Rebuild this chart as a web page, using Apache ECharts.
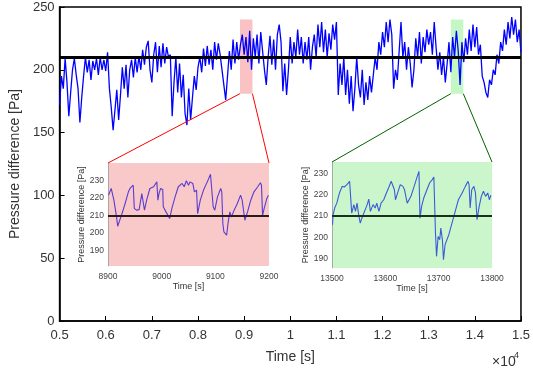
<!DOCTYPE html>
<html>
<head>
<meta charset="utf-8">
<script src="https://cdn.jsdelivr.net/npm/echarts@6/dist/echarts.min.js"></script>
<style>
	html, body { margin: 0; padding: 0; background: #fff; }
	#chart { width: 533px; height: 369px; }
</style>
</head>
<body>
<div id="chart"></div>
<script>
(function () {

	var FONT = '"Liberation Sans", Arial, sans-serif';

	// main record, one reading every 40 s starting at 5000 s
	var MAIN_START = 5000;
	var MAIN_STEP  = 40;
	var mainValues = [
		172, 195, 185, 209, 190, 163, 182, 200, 209, 196,
		185, 158, 178, 195, 210, 198, 208, 192, 207, 200,
		209, 196, 210, 200, 208, 199, 214, 185, 170, 152,
		168, 184, 160, 180, 202, 185, 204, 178, 200, 208,
		194, 210, 198, 211, 200, 216, 204, 218, 223, 200,
		190, 212, 222, 198, 219, 202, 221, 205, 218, 210,
		212, 163, 190, 210, 182, 205, 178, 196, 165, 156,
		185, 160, 178, 195, 184, 202, 210, 198, 217, 203,
		219, 204, 216, 200, 222, 208, 221, 212, 200, 188,
		176, 195, 215, 200, 224, 205, 222, 208, 220, 228,
		212, 226, 206, 231, 200, 225, 210, 228, 205, 230,
		215, 200, 188, 210, 227, 204, 224, 200, 228, 236,
		222, 183, 205, 180, 200, 226, 205, 222, 210, 232,
		212, 226, 205, 222, 208, 226, 200, 218, 228, 210,
		236, 218, 238, 214, 232, 210, 229, 216, 236, 224,
		238, 180, 205, 188, 210, 180, 200, 173, 195, 167,
		185, 210, 188, 178, 200, 172, 190, 176, 195, 182,
		196, 210, 200, 222, 212, 230, 218, 238, 222, 240,
		228, 185, 200, 192, 215, 238, 210, 222, 200, 218,
		205, 186, 200, 225, 210, 230, 205, 226, 214, 232,
		220, 230, 212, 238, 218, 200, 214, 196, 210, 190,
		205, 222, 198, 226, 210, 231, 215, 188, 222, 206,
		225, 212, 232, 215, 236, 218, 234, 212, 220, 195,
		190, 182, 178, 192, 188, 200, 196, 212, 205, 222,
		215, 232, 220, 238, 225, 242, 228, 240, 222, 232, 214
	];
	var meanLevel = 210;

	var redBand   = [8910, 9180];
	var greenBand = [13480, 13750];
	var bandY     = [181, 240];

	var inset1Time = [
		8901, 8906, 8909, 8911, 8913, 8916, 8918, 8920, 8925, 8931,
		8938, 8941, 8944, 8947, 8949, 8953, 8958, 8963, 8966, 8968,
		8972, 8978, 8985, 8991, 8993, 8995, 8998, 9002, 9003, 9008,
		9015, 9019, 9025, 9031, 9038, 9042, 9046, 9050, 9053, 9058,
		9061, 9065, 9067, 9072, 9078, 9085, 9091, 9093, 9096, 9099,
		9104, 9110, 9112, 9114, 9116, 9119, 9121, 9124, 9127, 9130,
		9135, 9141, 9147, 9150, 9155, 9160, 9166, 9172, 9179, 9184,
		9186, 9188, 9191, 9196, 9199
	];
	var inset1Values = [
		221.6, 225.4, 226.0, 218.7, 219.7, 209.0, 203.8, 203.4, 210.0, 215.8,
		223.5, 225.4, 226.4, 227.3, 214.0, 213.0, 213.3, 222.5, 222.5, 213.0,
		218.7, 225.4, 226.4, 229.2, 218.7, 222.5, 225.4, 224.8, 214.9, 212.0,
		208.2, 214.0, 220.6, 226.4, 228.3, 226.4, 229.8, 227.3, 229.2, 228.3,
		223.5, 224.5, 211.0, 218.7, 224.5, 229.2, 233.6, 234.4, 214.9, 213.0,
		220.6, 225.4, 223.5, 205.3, 200.5, 201.5, 198.6, 206.3, 212.0, 209.1,
		213.0, 216.8, 221.6, 218.7, 207.2, 212.0, 218.7, 223.5, 226.4, 228.7,
		227.3, 210.0, 214.0, 219.7, 221.6
	];

	var inset2Time = [
		13501, 13502, 13505, 13509, 13514, 13519, 13523, 13528, 13533, 13536,
		13537, 13541, 13544, 13547, 13550, 13553, 13556, 13561, 13566, 13569,
		13572, 13577, 13581, 13584, 13588, 13592, 13597, 13602, 13606, 13611,
		13614, 13617, 13619, 13623, 13628, 13633, 13636, 13641, 13644, 13648,
		13654, 13659, 13663, 13665, 13668, 13672, 13678, 13683, 13688, 13691,
		13694, 13696, 13699, 13702, 13704, 13707, 13709, 13712, 13719, 13725,
		13731, 13737, 13744, 13750, 13755, 13757, 13759, 13762, 13766, 13769,
		13772, 13776, 13780, 13784, 13788, 13792, 13795, 13798
	];
	var inset2Values = [
		205.9, 210.6, 213.8, 216.1, 220.9, 224.0, 223.7, 224.8, 226.4, 225.6,
		211.4, 215.4, 212.2, 216.1, 210.6, 206.7, 209.0, 212.2, 215.4, 218.0,
		212.2, 215.4, 213.8, 216.1, 212.2, 216.1, 217.7, 220.9, 223.2, 226.4,
		227.2, 222.4, 217.7, 220.9, 224.8, 224.0, 222.4, 216.1, 215.4, 219.3,
		224.0, 228.0, 231.1, 209.0, 214.6, 218.5, 222.4, 225.6, 227.2, 228.4,
		202.0, 191.0, 200.4, 198.8, 204.3, 198.8, 189.4, 196.5, 201.2, 206.7,
		212.2, 217.7, 220.9, 224.0, 226.4, 224.8, 213.8, 222.4, 224.0, 220.9,
		208.3, 214.6, 219.3, 221.7, 219.3, 220.9, 217.7, 219.9
	];

	var inset1X = [8900, 9200];
	var inset1Y = [181, 240];
	var inset2X = [13500, 13800];
	var inset2Y = [185.5, 235.5];
	var insetYTicks = [190, 200, 210, 220, 230];

	function pairs(xs, ys) {
		var out = [];
		for (var i = 0; i < xs.length; i++) out.push([xs[i], ys[i]]);
		return out;
	}

	var mainData = [];
	for (var i = 0; i < mainValues.length; i++) {
		mainData.push([MAIN_START + i * MAIN_STEP, mainValues[i]]);
	}

	function insetX(idx, range) {
		return {
			gridIndex: idx, type: 'value', min: range[0], max: range[1], interval: 100,
			axisLine: { show: false }, axisTick: { show: false }, splitLine: { show: false },
			axisLabel: {
				color: '#444', fontSize: 8.5, fontFamily: FONT, margin: 6,
				formatter: function (v) { return String(v); }
			},
			name: 'Time [s]', nameLocation: 'middle', nameGap: 16,
			nameTextStyle: { color: '#333', fontSize: 9, fontFamily: FONT }
		};
	}

	function insetYAxis(idx, range) {
		return {
			gridIndex: idx, type: 'value', min: range[0], max: range[1],
			axisLine: { show: true, lineStyle: { color: '#999', width: 0.8 } },
			axisTick: { show: false }, splitLine: { show: false },
			axisLabel: { color: '#444', fontSize: 8.5, fontFamily: FONT, margin: 4, customValues: insetYTicks },
			name: 'Pressure difference [Pa]', nameLocation: 'middle', nameGap: 21,
			nameTextStyle: { color: '#333', fontSize: 9, fontFamily: FONT }
		};
	}

	function meanMark(color, width) {
		return {
			silent: true, symbol: ['none', 'none'], label: { show: false },
			lineStyle: { color: color, width: width, type: 'solid' },
			emphasis: { disabled: true },
			data: [{ yAxis: meanLevel }]
		};
	}

	var chart = echarts.init(document.getElementById('chart'), null, { renderer: 'canvas' });

	chart.setOption({
		animation: false,
		backgroundColor: '#fff',
		grid: [
			{ left: 48, top: 7, width: 475, height: 319, show: true, borderColor: '#000', borderWidth: 1.5, backgroundColor: 'transparent' },
			{ left: 108, top: 163, width: 161, height: 103, show: true, borderWidth: 0, backgroundColor: '#f9c9c9' },
			{ left: 332, top: 162, width: 160, height: 106, show: true, borderWidth: 0, backgroundColor: '#cbf6cb' }
		],
		xAxis: [
			{
				gridIndex: 0, type: 'value', min: 5000, max: 15000, interval: 1000,
				axisLine: { lineStyle: { color: '#000', width: 1.5 } },
				axisTick: { inside: true, length: 5, lineStyle: { color: '#000' } },
				splitLine: { show: false },
				axisLabel: {
					color: '#333', fontSize: 13, fontFamily: FONT, margin: 8,
					formatter: function (v) { return String(v / 10000); }
				},
				name: 'Time [s]', nameLocation: 'middle', nameGap: 29,
				nameTextStyle: { color: '#333', fontSize: 14, fontFamily: FONT }
			},
			insetX(1, inset1X),
			insetX(2, inset2X)
		],
		yAxis: [
			{
				gridIndex: 0, type: 'value', min: 0, max: 250, interval: 50,
				axisLine: { lineStyle: { color: '#000', width: 1.5 } },
				axisTick: { inside: true, length: 5, lineStyle: { color: '#000' } },
				splitLine: { show: false },
				axisLabel: { color: '#333', fontSize: 13, fontFamily: FONT, margin: 5 },
				name: 'Pressure difference [Pa]', nameLocation: 'middle', nameGap: 31,
				nameTextStyle: { color: '#333', fontSize: 14, fontFamily: FONT }
			},
			insetYAxis(1, inset1Y),
			insetYAxis(2, inset2Y)
		],
		series: [
			{
				type: 'line', xAxisIndex: 0, yAxisIndex: 0, data: mainData,
				showSymbol: false, symbol: 'none', silent: true,
				lineStyle: { color: '#0000ff', width: 1.3 },
				markLine: meanMark('#000', 3)
			},
			{
				type: 'line', xAxisIndex: 0, yAxisIndex: 0, data: [], z: 5, silent: true,
				markArea: {
					silent: true,
					data: [
						[{ xAxis: redBand[0], yAxis: bandY[0], itemStyle: { color: 'rgba(245,120,120,0.45)' } },
						 { xAxis: redBand[1], yAxis: bandY[1] }],
						[{ xAxis: greenBand[0], yAxis: bandY[0], itemStyle: { color: 'rgba(140,240,140,0.5)' } },
						 { xAxis: greenBand[1], yAxis: bandY[1] }]
					]
				}
			},
			{
				type: 'line', xAxisIndex: 1, yAxisIndex: 1, data: pairs(inset1Time, inset1Values),
				showSymbol: false, symbol: 'none', silent: true,
				lineStyle: { color: '#5a3cd2', width: 1.1 },
				markLine: meanMark('#2a1a1a', 2)
			},
			{
				type: 'line', xAxisIndex: 2, yAxisIndex: 2, data: pairs(inset2Time, inset2Values),
				showSymbol: false, symbol: 'none', silent: true,
				lineStyle: { color: '#3a5cd8', width: 1.1 },
				markLine: meanMark('#1a301a', 2)
			}
		]
	});

	// zoom connector lines, placed through the axes of each grid
	function px(axis, pt) {
		return chart.convertToPixel({ xAxisIndex: axis, yAxisIndex: axis }, pt);
	}
	function connector(a, b, color) {
		return {
			type: 'line', silent: true, z: 10,
			shape: { x1: a[0], y1: a[1], x2: b[0], y2: b[1] },
			style: { stroke: color, lineWidth: 1 }
		};
	}

	chart.setOption({
		graphic: [
			connector(px(0, [redBand[0], bandY[0]]), px(1, [inset1X[0], inset1Y[1]]), '#ff0000'),
			connector(px(0, [redBand[1], bandY[0]]), px(1, [inset1X[1], inset1Y[1]]), '#ff0000'),
			connector(px(0, [greenBand[0], bandY[0]]), px(2, [inset2X[0], inset2Y[1]]), '#006400'),
			connector(px(0, [greenBand[1], bandY[0]]), px(2, [inset2X[1], inset2Y[1]]), '#006400'),
			{ type: 'text', left: 492, top: 355, silent: true,
				style: { text: '\u00d710', fill: '#333', fontSize: 14, fontFamily: FONT } },
			{ type: 'text', left: 514, top: 351, silent: true,
				style: { text: '4', fill: '#333', fontSize: 9, fontFamily: FONT } }
		]
	});

})();
</script>
</body>
</html>
